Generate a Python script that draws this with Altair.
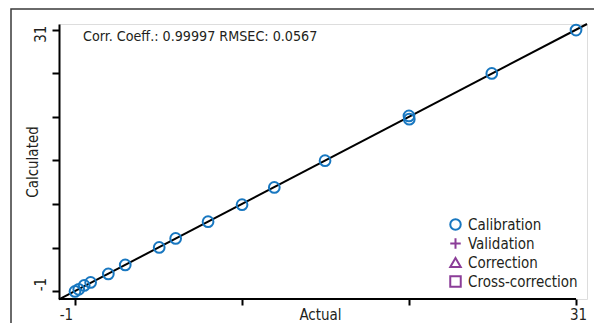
import altair as alt
import pandas as pd

# ---- data ----
cal_actual = [-1.0, -0.76, -0.41, 0.0, 1.13, 2.21, 4.38, 5.43, 7.5, 9.67, 11.73, 14.97, 20.33, 20.35, 25.62, 31.0]
cal_calc = [-1.04, -0.79, -0.31, 0.06, 1.10, 2.2, 4.35, 5.45, 7.5, 9.58, 11.69, 14.97, 20.45, 20.05, 25.65, 30.96]
fit_x = [-2.02, 31.7]
fit_y = [-2.02, 31.7]
categories = ["Calibration", "Validation", "Correction", "Cross-correction"]
cat_colors = ["#1877c0", "#8b3d98", "#8b3d98", "#8b3d98"]
cat_shapes = ["circle", "M-1,0H1M0,-1V1", "triangle-up", "square"]
x_ticks = [-1, 9.6667, 20.3333, 31]
y_ticks = [round(-1 + 32 * k / 6, 4) for k in range(7)]
x_domain = [-2.02, 31.7]
y_domain = [-1.97, 31.7]
annotation = "Corr. Coeff.: 0.99997 RMSEC: 0.0567"

FONT = "DejaVu Sans Condensed, Liberation Sans, Arial, sans-serif"
TXT = "#231f20"
FS = 15

pts = pd.DataFrame({"Actual": cal_actual, "Calculated": cal_calc,
                    "type": ["Calibration"] * len(cal_actual)})
fit = pd.DataFrame({"Actual": fit_x, "Calculated": fit_y})
xaxis_rule = pd.DataFrame({"x": [x_domain[0]], "x2": [31], "y": [y_domain[0]]})

label_expr = "datum.value == -1 ? '-1' : (datum.value == 31 ? '31' : '')"

xscale = alt.Scale(domain=x_domain, nice=False, zero=False)
yscale = alt.Scale(domain=y_domain, nice=False, zero=False)

x_axis = alt.Axis(values=x_ticks, labelExpr=label_expr, domain=False, grid=False,
                  ticks=True, tickSize=6, tickWidth=2, tickColor="black",
                  labelFont=FONT, labelFontSize=FS, labelColor=TXT, labelPadding=14,
                  labelAngle=0, labelAlign="center", labelBaseline="alphabetic",
                  labelOffset={"condition": {"test": "datum.value < 0", "value": -9}, "value": 2},
                  title="Actual", titleFont=FONT, titleFontSize=FS, titleFontWeight="normal",
                  titleColor=TXT, titleX=261, titleY=20, titleAlign="center",
                  titleBaseline="alphabetic")

y_axis = alt.Axis(values=y_ticks, labelExpr=label_expr, domain=True, domainColor="black",
                  domainWidth=2, grid=False, tickSize=7, tickWidth=2, tickColor="black",
                  labelFont=FONT, labelFontSize=FS, labelColor=TXT, labelPadding=4,
                  labelAngle=270, labelAlign="center", labelBaseline="bottom",
                  labelOffset={"condition": {"test": "datum.value < 0", "value": -7}, "value": 4},
                  title="Calculated", titleFont=FONT, titleFontSize=FS, titleFontWeight="normal",
                  titleColor=TXT, titleX=-27, titleY=137.5, titleAngle=270,
                  titleAlign="center", titleBaseline="middle")

frame = alt.Chart(pd.DataFrame({"a": [0]})).mark_rect(
    fillOpacity=0, stroke="#3a3a3a", strokeWidth=1.5
).encode(x=alt.value(-48), x2=alt.value(560), y=alt.value(-15), y2=alt.value(320))

line = alt.Chart(fit).mark_line(color="black", strokeWidth=2).encode(
    x=alt.X("Actual:Q", scale=xscale, axis=x_axis),
    y=alt.Y("Calculated:Q", scale=yscale, axis=y_axis),
)

xrule = alt.Chart(xaxis_rule).mark_rule(color="black", strokeWidth=2).encode(
    x=alt.X("x:Q", scale=xscale), x2="x2:Q", y=alt.Y("y:Q", scale=yscale)
)

points = alt.Chart(pts).mark_point(filled=False, size=115, strokeWidth=2, opacity=1).encode(
    x=alt.X("Actual:Q", scale=xscale),
    y=alt.Y("Calculated:Q", scale=yscale),
    color=alt.Color("type:N", scale=alt.Scale(domain=categories, range=cat_colors),
                    legend=alt.Legend(title=None, orient="none", legendX=389, legendY=193,
                                      labelFont=FONT, labelFontSize=FS, labelColor=TXT,
                                      symbolSize=110, symbolStrokeWidth=2, labelOffset=5,
                                      rowPadding=0, padding=0)),
    shape=alt.Shape("type:N", scale=alt.Scale(domain=categories, range=cat_shapes)),
)

note = alt.Chart(pd.DataFrame({"t": [annotation]})).mark_text(
    align="left", baseline="middle", font=FONT, fontSize=14.2, color=TXT
).encode(x=alt.value(24), y=alt.value(13), text="t:N")

chart = alt.layer(frame, line, xrule, points, note).properties(
    width=528, height=275,
    padding={"left": 51, "top": 16, "right": 7, "bottom": 24},
    autosize=alt.AutoSizeParams(type="none"),
).configure_view(stroke=None).configure(background="white")

chart.save("out.html", embed_options={"renderer": "svg", "actions": False})
